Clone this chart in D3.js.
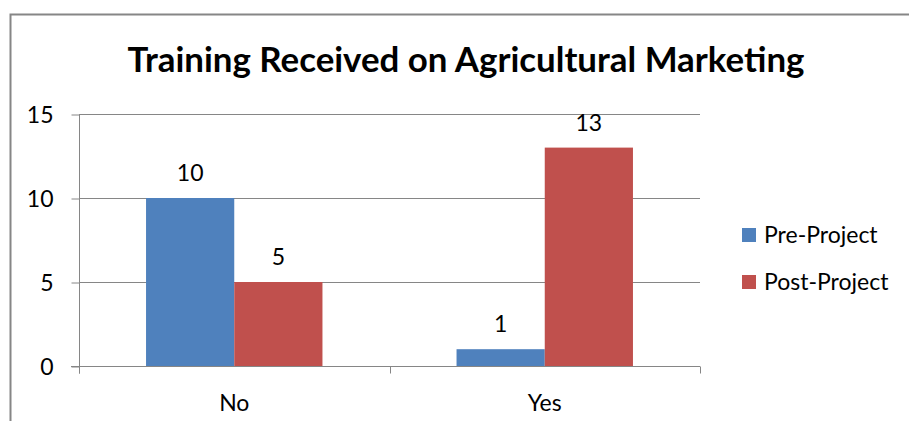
<!DOCTYPE html>
<html lang="en">
<head>
    <meta charset="UTF-8">
    <title>Training Received on Agricultural Marketing</title>
    <script src="https://cdn.jsdelivr.net/npm/d3@7"></script>
    <style>
        body { margin: 0; background: #fff; }
        svg text { font-family: Lato, "Open Sans", sans-serif; fill: #000; }
        .title { font-weight: bold; }
        .axis path, .axis line { stroke: #868686; }
    </style>
</head>
<body>
    <div id="chart"></div>
    <script>
        // chart values
        const categories = ["No", "Yes"];
        const seriesNames = ["Pre-Project", "Post-Project"];
        const preProject = [10, 1];
        const postProject = [5, 13];
        const yTicks = [0, 5, 10, 15];
        const colors = ["#4F81BD", "#C0504D"];

        const W = 909, H = 421;
        const fs = "23px";
        const margin = { top: 114, right: 209, bottom: 55, left: 79 },
            width = W - margin.left - margin.right,
            height = H - margin.top - margin.bottom;

        const svg = d3.select("#chart").append("svg")
            .attr("width", W)
            .attr("height", H);

        // outer frame (right and bottom edges are cut off in the picture)
        svg.append("path")
            .attr("d", `M10.5,${H} V14.5 H${W}`)
            .attr("fill", "none")
            .attr("stroke", "#868686")
            .attr("stroke-width", 2);

        const title = svg.append("text")
            .attr("class", "title")
            .attr("x", 466)
            .attr("y", 72)
            .attr("text-anchor", "middle")
            .style("font-size", "28px")
            .text("Training Received on Agricultural Marketing");
        // fit the title to the width it has in the picture
        const tw = title.node().getComputedTextLength();
        title.style("font-size", (28 * 677 / tw) + "px");

        const g = svg.append("g")
            .attr("transform", `translate(${margin.left},${margin.top})`);

        const x0 = d3.scaleBand().domain(categories).range([0, width]).paddingInner(0).paddingOuter(0);
        const x1 = d3.scaleBand().domain(seriesNames).range([0, x0.bandwidth()]).paddingInner(0).paddingOuter(0.76);
        const y = d3.scaleLinear().domain([0, 15]).range([height, 0]);

        // gridlines
        g.append("g")
            .selectAll("line")
            .data(yTicks.filter(d => d > 0))
            .join("line")
            .attr("x1", 0).attr("x2", width)
            .attr("y1", d => y(d) + 0.5).attr("y2", d => y(d) + 0.5)
            .attr("stroke", "#868686");

        const table = categories.map((c, i) => ({ cat: c, values: [preProject[i], postProject[i]] }));

        const groups = g.selectAll(".grp")
            .data(table)
            .join("g")
            .attr("class", "grp")
            .attr("transform", d => `translate(${x0(d.cat)},0)`);

        groups.selectAll("rect")
            .data(d => d.values.map((v, j) => ({ s: seriesNames[j], v: v, j: j })))
            .join("rect")
            .attr("x", d => x1(d.s))
            .attr("width", x1.bandwidth())
            .attr("y", d => y(d.v))
            .attr("height", d => height - y(d.v))
            .attr("fill", d => colors[d.j]);

        groups.selectAll(".val")
            .data(d => d.values.map((v, j) => ({ s: seriesNames[j], v: v })))
            .join("text")
            .attr("class", "val")
            .attr("x", d => x1(d.s) + x1.bandwidth() / 2)
            .attr("y", d => y(d.v) - 17)
            .attr("text-anchor", "middle")
            .style("font-size", fs)
            .text(d => d.v);

        // y axis
        const yAxis = g.append("g").attr("class", "axis")
            .attr("transform", "translate(0.5,0.5)")
            .call(d3.axisLeft(y).tickValues(yTicks).tickSize(8).tickPadding(18).tickSizeOuter(0));
        yAxis.selectAll("text").style("font-size", fs).attr("dy", "0.35em");
        yAxis.select(".domain").attr("d", `M0,0 V${height + 7}`);

        // x axis with ticks between categories
        const xAxis = g.append("g").attr("class", "axis")
            .attr("transform", `translate(0,${height + 0.5})`);
        xAxis.append("line").attr("x1", -8).attr("x2", width).attr("stroke", "#868686");
        xAxis.selectAll(".tk")
            .data(categories.map(c => x0(c)).concat([width]))
            .join("line")
            .attr("class", "tk")
            .attr("x1", d => Math.round(d) + 0.5).attr("x2", d => Math.round(d) + 0.5)
            .attr("y1", 0).attr("y2", 7)
            .attr("stroke", "#868686");
        xAxis.selectAll(".lbl")
            .data(categories)
            .join("text")
            .attr("class", "lbl")
            .attr("x", d => x0(d) + x0.bandwidth() / 2)
            .attr("y", 44)
            .attr("text-anchor", "middle")
            .style("font-size", fs)
            .text(d => d);

        // legend
        const legend = svg.append("g").attr("transform", "translate(742,228)");
        const entries = legend.selectAll("g")
            .data(seriesNames)
            .join("g")
            .attr("transform", (d, i) => `translate(0,${i * 47})`);
        entries.append("rect")
            .attr("width", 14).attr("height", 14)
            .attr("fill", (d, i) => colors[i]);
        entries.append("text")
            .attr("x", 22).attr("y", 7)
            .attr("dy", "0.35em")
            .style("font-size", fs)
            .text(d => d);
    </script>
</body>
</html>
